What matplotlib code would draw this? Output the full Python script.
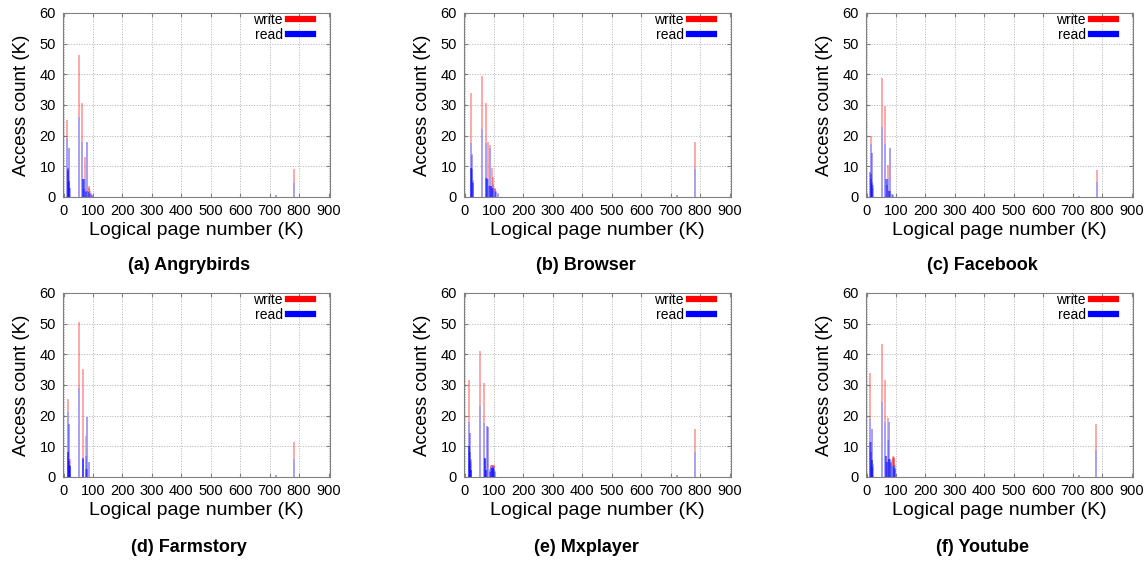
import matplotlib
matplotlib.use('Agg')
import matplotlib.pyplot as plt
from matplotlib.lines import Line2D

plt.rcParams['font.family'] = ['Liberation Sans', 'DejaVu Sans']

# spikes: logical page number (K), write count (K), read count (K)
angry_pos = [13, 14, 15, 16, 18, 19, 20, 21, 52, 64, 66, 67, 68, 70, 74, 76, 77, 81, 82, 87, 88, 90, 93, 96, 100, 722, 782]
angry_write = [25.0, 9.5, 9.0, 9.0, 16.0, 5.5, 5.5, 3.0, 46.4, 30.7, 6.0, 6.0, 6.0, 3.0, 13.0, 3.0, 2.0, 17.8, 2.0, 3.7, 3.0, 2.0, 1.2, 0.8, 0.6, 0.5, 9.2]
angry_read = [19.3, 9.5, 9.0, 8.5, 15.9, 5.3, 5.0, 3.0, 26.0, 17.8, 6.0, 6.0, 6.0, 2.5, 6.0, 2.0, 1.5, 17.8, 2.0, 1.5, 1.5, 1.0, 1.0, 0.6, 0.4, 0.5, 4.6]

browser_pos = [21, 22, 23, 24, 26, 27, 28, 60, 72, 74, 75, 76, 81, 84, 85, 86, 89, 90, 92, 94, 97, 98, 102, 104, 108, 112, 722, 782]
browser_write = [9.4, 33.8, 9.4, 9.0, 14.0, 5.5, 5.0, 39.4, 30.5, 6.1, 6.1, 6.0, 18.0, 4.0, 3.5, 17.0, 3.5, 3.5, 9.5, 3.5, 6.5, 4.0, 3.0, 2.5, 2.0, 1.2, 0.5, 17.8]
browser_read = [9.4, 17.5, 9.4, 9.0, 13.7, 5.0, 4.5, 22.2, 17.5, 6.1, 6.1, 6.0, 6.0, 3.5, 3.5, 16.1, 3.5, 3.5, 3.0, 3.5, 3.0, 3.0, 2.0, 2.0, 1.5, 1.0, 0.5, 9.0]

facebook_pos = [13, 14, 15, 16, 18, 19, 20, 21, 52, 64, 67, 68, 69, 74, 75, 76, 80, 81, 85, 91, 722, 782]
facebook_write = [8.0, 19.9, 8.0, 6.0, 14.3, 5.0, 4.5, 4.0, 38.9, 29.8, 6.0, 6.0, 4.0, 10.5, 2.5, 2.5, 16.0, 2.0, 1.0, 0.5, 0.3, 8.9]
facebook_read = [8.0, 17.3, 7.5, 6.0, 14.3, 5.0, 4.0, 3.0, 22.7, 17.3, 6.0, 6.0, 4.0, 6.0, 2.0, 2.0, 16.0, 2.0, 1.0, 0.5, 0.3, 4.8]

farm_pos = [14, 15, 16, 17, 19, 20, 21, 22, 23, 52, 65, 66, 67, 76, 77, 78, 81, 85, 722, 782]
farm_write = [8.3, 25.5, 8.3, 6.0, 17.2, 6.0, 6.0, 3.5, 3.5, 50.6, 6.2, 35.2, 6.0, 13.5, 2.5, 2.5, 19.7, 4.8, 0.5, 11.3]
farm_read = [8.3, 21.3, 8.3, 6.0, 17.2, 5.1, 4.0, 3.5, 3.5, 28.9, 6.2, 6.2, 6.0, 7.0, 2.5, 2.5, 19.7, 4.8, 0.5, 5.8]

mx_pos = [14, 15, 16, 17, 19, 20, 21, 22, 23, 53, 66, 68, 69, 70, 73, 74, 75, 78, 86, 88, 90, 91, 92, 94, 95, 97, 98, 100, 101, 103, 722, 782]
mx_write = [10.0, 31.6, 10.0, 8.0, 14.3, 6.2, 6.0, 2.4, 2.4, 41.0, 30.5, 6.2, 6.2, 6.0, 2.4, 2.4, 16.7, 16.3, 1.5, 2.5, 4.0, 3.5, 3.5, 3.8, 3.5, 4.0, 3.5, 3.8, 3.5, 2.0, 0.5, 15.6]
mx_read = [10.0, 17.8, 10.0, 8.0, 14.3, 5.6, 5.0, 2.4, 2.4, 23.0, 17.5, 6.2, 6.2, 6.0, 2.4, 2.4, 16.5, 16.3, 1.5, 2.0, 3.0, 3.0, 3.5, 3.0, 3.5, 3.0, 3.5, 3.0, 2.5, 1.5, 0.5, 8.0]

yt_pos = [12, 13, 14, 15, 17, 18, 19, 20, 21, 51, 63, 66, 67, 69, 70, 73, 75, 76, 77, 78, 83, 84, 90, 91, 93, 94, 96, 97, 722, 780]
yt_write = [11.3, 34.0, 11.3, 8.0, 15.6, 5.6, 5.6, 4.2, 4.2, 43.3, 31.6, 7.0, 7.0, 4.8, 4.8, 19.2, 6.0, 6.0, 17.9, 6.0, 5.0, 5.5, 6.7, 6.2, 6.2, 6.5, 4.0, 3.0, 0.5, 17.3]
yt_read = [11.3, 18.9, 11.3, 8.0, 15.6, 5.6, 5.6, 3.5, 3.0, 24.6, 18.0, 7.0, 7.0, 4.8, 4.8, 12.0, 6.0, 6.0, 17.9, 6.0, 4.5, 5.0, 3.5, 3.5, 3.5, 3.5, 3.0, 2.5, 0.5, 8.9]

titles = ['(a) Angrybirds', '(b) Browser', '(c) Facebook',
          '(d) Farmstory', '(e) Mxplayer', '(f) Youtube']
panels = [(angry_pos, angry_write, angry_read),
          (browser_pos, browser_write, browser_read),
          (facebook_pos, facebook_write, facebook_read),
          (farm_pos, farm_write, farm_read),
          (mx_pos, mx_write, mx_read),
          (yt_pos, yt_write, yt_read)]

W, H = 1147, 561
fig = plt.figure(figsize=(W / 100, H / 100), dpi=100)

col_left = [63, 464, 866]
row_top = [13, 293]
aw, ah = 267, 184
cap_x = [189, 586, 982]
cap_y = [266, 547]

for i, (pos, wr, rd) in enumerate(panels):
    r, c = divmod(i, 3)
    ax = fig.add_axes([col_left[c] / W, 1 - (row_top[r] + ah) / H, aw / W, ah / H])
    ax.vlines(pos, 0, wr, colors='red', alpha=0.4, lw=1.2)
    # white underlay so the read part shows as blue, not purple
    ax.vlines(pos, 0, rd, colors='white', lw=1.2)
    ax.vlines(pos, 0, rd, colors='blue', alpha=0.4, lw=1.2)
    ax.set_xlim(-2, 905)
    ax.set_ylim(0, 60)
    ax.set_xticks(range(0, 1000, 100))
    ax.set_yticks(range(0, 70, 10))
    ax.grid(True, ls=':', color='#b0b0b0', lw=0.7)
    ax.set_axisbelow(True)
    ax.tick_params(direction='in', length=3, top=True, right=True,
                   color='#808080', labelsize=10.5, pad=5)
    for s in ax.spines.values():
        s.set_color('#808080')
    ax.set_xlabel('Logical page number (K)', fontsize=14, labelpad=3)
    ax.set_ylabel('Access count (K)', fontsize=13.5, labelpad=7)
    handles = [Line2D([], [], color='red', lw=4.5),
               Line2D([], [], color='blue', lw=4.5)]
    ax.legend(handles, ['write', 'read'], loc='upper right',
              bbox_to_anchor=(1 - 11 / aw, 1.03), frameon=False,
              markerfirst=False, fontsize=10, handlelength=1.8,
              borderaxespad=0, labelspacing=0.05, handletextpad=0.4)
    fig.text(cap_x[c] / W, 1 - cap_y[r] / H, titles[i], ha='center',
             va='center', fontweight='bold', fontsize=13)

fig.savefig('out.png', dpi=100)
